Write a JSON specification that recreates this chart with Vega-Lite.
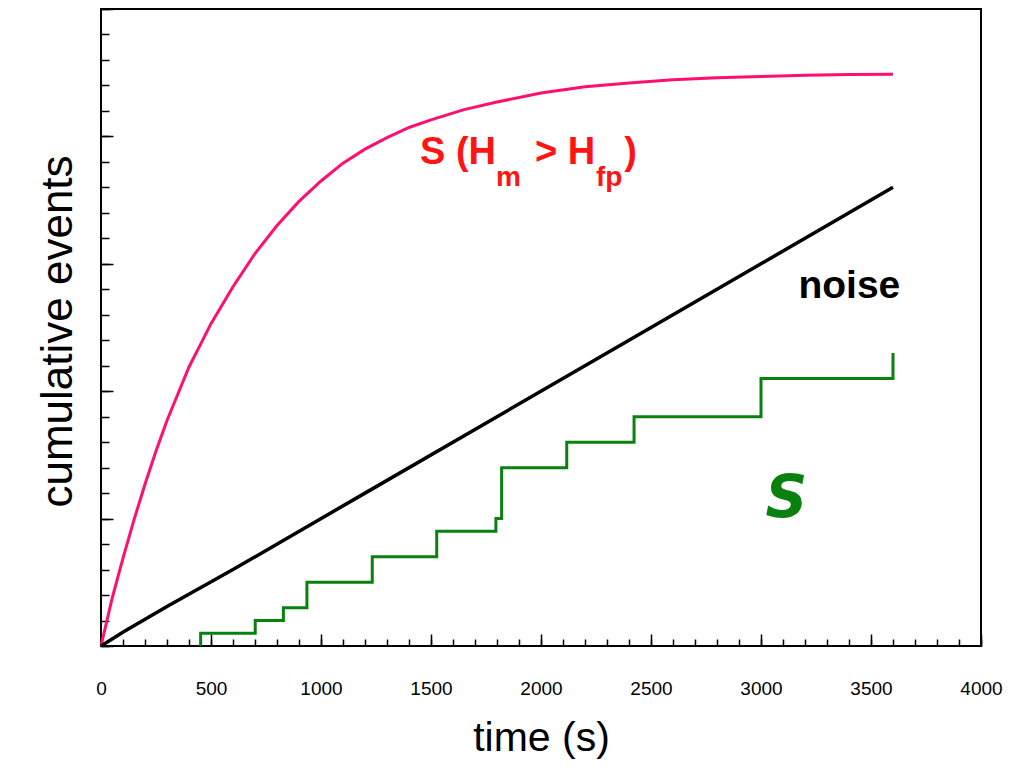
{
  "$schema": "https://vega.github.io/schema/vega-lite/v6.json",
  "width": 880,
  "height": 637,
  "autosize": {"type": "none"},
  "padding": {"left": 101, "top": 9, "right": 31, "bottom": 125},
  "background": "white",
  "config": {
    "view": {"stroke": "black", "strokeWidth": 2},
    "font": "Liberation Sans",
    "axis": {"grid": false, "domain": false, "tickColor": "black", "tickWidth": 1.5, "labelColor": "black", "titleColor": "black", "labelFont": "Liberation Sans", "titleFont": "Liberation Sans"}
  },
  "datasets": {
    "pink": [
      {"t": 0, "n": 0}, {"t": 50, "n": 37}, {"t": 100, "n": 69}, {"t": 150, "n": 99},
      {"t": 200, "n": 127}, {"t": 250, "n": 153}, {"t": 300, "n": 177}, {"t": 350, "n": 198},
      {"t": 400, "n": 219}, {"t": 450, "n": 236}, {"t": 500, "n": 253}, {"t": 600, "n": 282},
      {"t": 700, "n": 308}, {"t": 800, "n": 330}, {"t": 900, "n": 349}, {"t": 1000, "n": 365},
      {"t": 1100, "n": 379}, {"t": 1200, "n": 390}, {"t": 1300, "n": 399}, {"t": 1400, "n": 407},
      {"t": 1500, "n": 413}, {"t": 1650, "n": 421}, {"t": 1800, "n": 427}, {"t": 2000, "n": 434},
      {"t": 2200, "n": 439}, {"t": 2400, "n": 442}, {"t": 2600, "n": 444.5}, {"t": 2800, "n": 446},
      {"t": 3000, "n": 447}, {"t": 3200, "n": 448}, {"t": 3400, "n": 448.5}, {"t": 3600, "n": 448.7}
    ],
    "noise": [
      {"t": 0, "n": 0}, {"t": 101, "n": 11}, {"t": 300, "n": 31}, {"t": 600, "n": 60},
      {"t": 1200, "n": 120}, {"t": 1800, "n": 180}, {"t": 2400, "n": 240},
      {"t": 3000, "n": 300}, {"t": 3600, "n": 360}
    ],
    "signal": [
      {"t": 453, "n": 0}, {"t": 453, "n": 10}, {"t": 701, "n": 20}, {"t": 829, "n": 30},
      {"t": 936, "n": 50}, {"t": 1233, "n": 70}, {"t": 1526, "n": 90}, {"t": 1795, "n": 100},
      {"t": 1821, "n": 140}, {"t": 2117, "n": 160}, {"t": 2423, "n": 180}, {"t": 3000, "n": 210},
      {"t": 3600, "n": 230}
    ]
  },
  "resolve": {"axis": {"x": "independent", "y": "independent"}},
  "layer": [
    {
      "data": {"name": "pink"},
      "mark": {"type": "line", "color": "#FF1070", "strokeWidth": 3},
      "encoding": {
        "x": {"field": "t", "type": "quantitative", "scale": {"domain": [0, 4000], "nice": false},
          "axis": {"orient": "bottom", "values": [0, 500, 1000, 1500, 2000, 2500, 3000, 3500, 4000], "format": "d", "labelFlush": false, "ticks": false, "labelFontSize": 19, "labelPadding": 33, "title": "time (s)", "titleFontSize": 41, "titleFontWeight": "normal", "titleY": 104, "titleBaseline": "alphabetic"}},
        "y": {"field": "n", "type": "quantitative", "scale": {"domain": [0, 500], "nice": false},
          "axis": {"orient": "left", "values": [0, 100, 200, 300, 400, 500], "tickSize": -12, "labels": false, "title": "cumulative events", "titleFontSize": 44, "titleFontWeight": "normal", "titleX": -30, "titleY": 322, "titleBaseline": "alphabetic", "titleAngle": 270}}
      }
    },
    {
      "data": {"name": "noise"},
      "mark": {"type": "line", "color": "black", "strokeWidth": 3.5},
      "encoding": {
        "x": {"field": "t", "type": "quantitative",
          "axis": {"orient": "bottom", "values": [0,100,200,300,400,500,600,700,800,900,1000,1100,1200,1300,1400,1500,1600,1700,1800,1900,2000,2100,2200,2300,2400,2500,2600,2700,2800,2900,3000,3100,3200,3300,3400,3500,3600,3700,3800,3900,4000], "tickSize": -7, "labels": false, "title": null}},
        "y": {"field": "n", "type": "quantitative",
          "axis": {"orient": "left", "values": [0,20,40,60,80,100,120,140,160,180,200,220,240,260,280,300,320,340,360,380,400,420,440,460,480,500], "tickSize": -8, "labels": false, "title": null}}
      }
    },
    {
      "data": {"name": "signal"},
      "mark": {"type": "line", "color": "#0A800F", "strokeWidth": 3, "interpolate": "step-after"},
      "encoding": {
        "x": {"field": "t", "type": "quantitative",
          "axis": {"orient": "bottom", "values": [0, 500, 1000, 1500, 2000, 2500, 3000, 3500, 4000], "tickSize": -12, "labels": false, "title": null}},
        "y": {"field": "n", "type": "quantitative", "axis": null}
      }
    },
    {
      "data": {"values": [{}]},
      "mark": {"type": "text", "color": "#FF1414", "fontSize": 38, "fontWeight": "bold", "font": "Liberation Sans", "align": "left", "baseline": "alphabetic"},
      "encoding": {"x": {"datum": 1450, "type": "quantitative", "axis": null}, "y": {"datum": 378, "type": "quantitative", "axis": null}, "text": {"value": "S (H"}}
    },
    {
      "data": {"values": [{}]},
      "mark": {"type": "text", "color": "#FF1414", "fontSize": 28, "fontWeight": "bold", "font": "Liberation Sans", "align": "left", "baseline": "alphabetic"},
      "encoding": {"x": {"datum": 1795, "type": "quantitative", "axis": null}, "y": {"datum": 361, "type": "quantitative", "axis": null}, "text": {"value": "m"}}
    },
    {
      "data": {"values": [{}]},
      "mark": {"type": "text", "color": "#FF1414", "fontSize": 38, "fontWeight": "bold", "font": "Liberation Sans", "align": "left", "baseline": "alphabetic"},
      "encoding": {"x": {"datum": 1973, "type": "quantitative", "axis": null}, "y": {"datum": 378, "type": "quantitative", "axis": null}, "text": {"value": "> H"}}
    },
    {
      "data": {"values": [{}]},
      "mark": {"type": "text", "color": "#FF1414", "fontSize": 28, "fontWeight": "bold", "font": "Liberation Sans", "align": "left", "baseline": "alphabetic"},
      "encoding": {"x": {"datum": 2250, "type": "quantitative", "axis": null}, "y": {"datum": 361, "type": "quantitative", "axis": null}, "text": {"value": "fp"}}
    },
    {
      "data": {"values": [{}]},
      "mark": {"type": "text", "color": "#FF1414", "fontSize": 38, "fontWeight": "bold", "font": "Liberation Sans", "align": "left", "baseline": "alphabetic"},
      "encoding": {"x": {"datum": 2378, "type": "quantitative", "axis": null}, "y": {"datum": 378, "type": "quantitative", "axis": null}, "text": {"value": ")"}}
    },
    {
      "data": {"values": [{}]},
      "mark": {"type": "text", "color": "black", "fontSize": 39, "fontWeight": "bold", "font": "Liberation Sans", "align": "left", "baseline": "alphabetic"},
      "encoding": {"x": {"datum": 3170, "type": "quantitative", "axis": null}, "y": {"datum": 273.5, "type": "quantitative", "axis": null}, "text": {"value": "noise"}}
    },
    {
      "data": {"values": [{}]},
      "mark": {"type": "text", "color": "#0A800F", "fontSize": 58, "fontWeight": "bold", "fontStyle": "italic", "font": "DejaVu Sans", "align": "left", "baseline": "alphabetic"},
      "encoding": {"x": {"datum": 3020, "type": "quantitative", "axis": null}, "y": {"datum": 101, "type": "quantitative", "axis": null}, "text": {"value": "S"}}
    }
  ]
}
